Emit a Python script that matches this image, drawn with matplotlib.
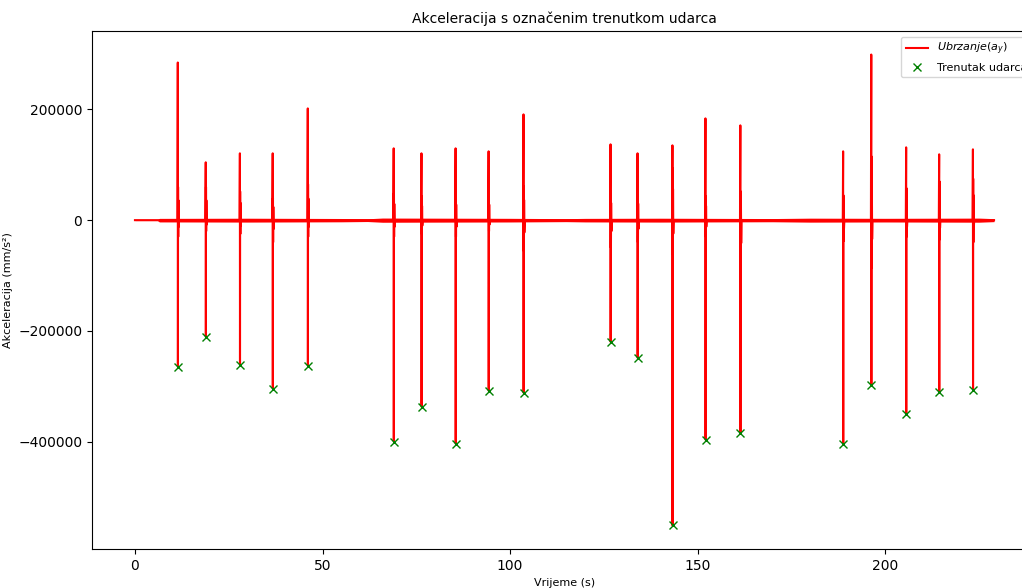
import numpy as np
import matplotlib
matplotlib.use("Agg")
import matplotlib.pyplot as plt

# trenuci udaraca (s) i vrijednosti ocitane sa slike (mm/s^2)
udarci_t = [11.45, 18.9, 28.0, 36.75, 46.1, 69.0, 76.4, 85.5, 94.3, 103.6,
            126.8, 134.0, 143.3, 152.1, 161.4, 188.8, 196.3, 205.6, 214.4, 223.4]
vrh = [284700, 104500, 120700, 120700, 201800, 129700, 120700, 129700, 124300, 191000,
       136900, 120700, 135100, 183800, 171200, 124300, 299100, 131500, 118900, 127900]
dno = [-264900, -210800, -261300, -304500, -263000, -400000, -336900, -403600, -308100, -311700,
       -219800, -248600, -551400, -396400, -383800, -403600, -297300, -349500, -309900, -306300]
# "rame" iza udarca (titranje nakon udarca)
rame_gore = [60000, 60000, 52000, 40000, 65000, 49000, 43000, 47000, 47000, 61000,
             52000, 50000, 94000, 43000, 52000, 45000, 115000, 58000, 70000, 75000]
rame_dolje = [30000, 20000, 25000, 40000, 30000, 30000, 25000, 30000, 20000, 56000,
              50000, 40000, 61000, 30000, 104000, 38000, 86000, 30000, 35000, 40000]

# ovojnica suma oko nule
sum_t = [0, 6, 6.5, 30, 55, 62, 66, 100, 115, 120, 140, 170, 180, 200, 225, 229]
sum_a = [800, 800, 3200, 3500, 3000, 2500, 3800, 3300, 2700, 3200, 3500, 2900, 3600, 3300, 3700, 2700]

kraj = 229.0

# slaganje signala
t = [0.0]
y = [0.0]
for i in range(len(udarci_t)):
    t0 = udarci_t[i]
    t += [t0 - 0.12, t0 - 0.03, t0, t0 + 0.04, t0 + 0.08, t0 + 0.13, t0 + 0.2, t0 + 0.3]
    y += [0, vrh[i], dno[i], rame_gore[i], -rame_dolje[i], rame_gore[i] * 0.6,
          -rame_dolje[i] * 0.4, 0]
t.append(kraj)
y.append(0.0)

fig = plt.figure(figsize=(10.22, 5.88), dpi=100)
ax = fig.add_axes([92 / 1022, 39 / 588, 945 / 1022, 518 / 588])

ax.fill_between(sum_t, [-a for a in sum_a], sum_a, color='red', lw=0)
ax.plot(t, y, color='red', lw=1.5, label=r'$Ubrzanje(a_y)$')
ax.plot(udarci_t, dno, 'x', color='green', label='Trenutak udarca')

ax.set_title('Akceleracija s označenim trenutkom udarca', fontsize=10)
ax.set_xlabel('Vrijeme (s)', fontsize=8)
ax.set_ylabel('Akceleracija (mm/s²)', fontsize=8)
ax.tick_params(labelsize=10)
ax.legend(loc='upper right', fontsize=8)

fig.savefig('out.png', dpi=100)
